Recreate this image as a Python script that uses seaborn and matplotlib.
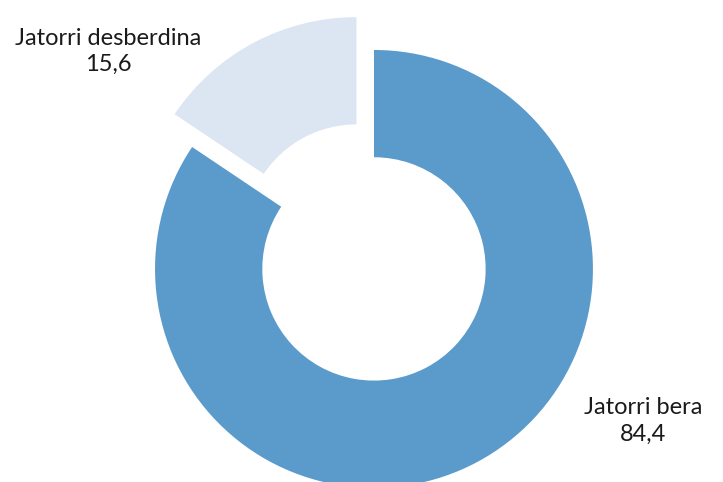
import matplotlib
matplotlib.use('Agg')
import matplotlib.pyplot as plt
import seaborn as sns

sns.set_theme(style="white")
plt.rcParams['font.family'] = ['Lato', 'DejaVu Sans']

categories = ['Jatorri bera', 'Jatorri desberdina']
values = [84.4, 15.6]
value_labels = ['84,4', '15,6']
colors = ['#5b9bcc', '#dce6f2']

fig = plt.figure(figsize=(7.23, 4.82), dpi=100)
ax = fig.add_axes([0, 0, 1, 1])

ax.pie(values, colors=colors, startangle=90, counterclock=False,
       explode=[0, 0.17], radius=1.0,
       wedgeprops=dict(width=0.49, edgecolor='none'))

# labels
ax.text(1.228, -0.694, categories[0] + '\n' + value_labels[0], ha='center', va='center',
        fontsize=17, color='#1a1a1a', linespacing=1.3)
ax.text(-1.215, 0.995, categories[1] + '\n' + value_labels[1], ha='center', va='center',
        fontsize=17, color='#1a1a1a', linespacing=1.3)

ax.set_aspect('equal')
ax.set_xlim(-1.708, 1.594)
ax.set_ylim(-0.973, 1.228)
ax.axis('off')

plt.savefig('out.png', dpi=100)
